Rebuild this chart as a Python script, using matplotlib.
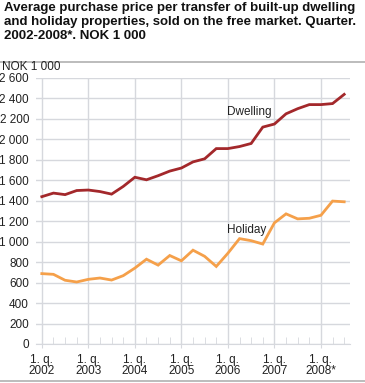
import matplotlib
matplotlib.use("Agg")
import matplotlib.pyplot as plt
from matplotlib.ticker import FuncFormatter

plt.rcParams['font.family'] = ['Liberation Sans', 'DejaVu Sans']

# quarters 2002 Q1 .. 2008 Q3
years = ["2002", "2003", "2004", "2005", "2006", "2007", "2008*"]
dwelling = [1440, 1475, 1460, 1500, 1505, 1490, 1465, 1540,
            1630, 1605, 1645, 1690, 1720, 1780, 1810, 1910,
            1910, 1930, 1960, 2120, 2150, 2250, 2300, 2340,
            2340, 2350, 2440]
holiday = [688, 681, 623, 606, 632, 645, 625, 668,
           742, 829, 771, 865, 813, 917, 857, 758,
           887, 1030, 1010, 977, 1184, 1272, 1223, 1229,
           1258, 1397, 1390]

fig = plt.figure(figsize=(3.65, 3.83), dpi=100)
ax = fig.add_axes([36/365, 39/383, 314/365, 266/383])

x = list(range(len(dwelling)))
ax.plot(x, dwelling, color="#a3282b", lw=2, solid_joinstyle="miter", zorder=3)
ax.plot(x, holiday, color="#f5a04a", lw=2, solid_joinstyle="miter", zorder=3)

ax.set_xlim(-0.5, 26.5)
ax.set_ylim(0, 2600)
ax.set_yticks(range(0, 2601, 200))
ax.yaxis.set_major_formatter(FuncFormatter(lambda v, p: "{:,}".format(int(v)).replace(",", " ")))
ax.set_xticks([4*i for i in range(len(years))])
ax.set_xticklabels(["1. q.\n" + y for y in years])
ax.set_xticks(x, minor=True)

grid_c = "#d6d8dd"
ax.grid(True, which="major", color=grid_c, lw=1)
for s in ["top", "right", "left"]:
    ax.spines[s].set_visible(False)
ax.spines["bottom"].set_color(grid_c)
ax.tick_params(axis="y", length=0, labelsize=8.5, pad=5, colors="#222222")
ax.tick_params(axis="x", which="major", length=3, color=grid_c, labelsize=8.5, pad=4, labelcolor="#222222")
ax.tick_params(axis="x", which="minor", direction="in", length=5, color=grid_c)
for lab in ax.get_xticklabels():
    lab.set_linespacing(0.95)

ax.text(17.8, 2270, "Dwelling", fontsize=8.5, ha="center", va="center", color="#222222")
ax.text(17.6, 1110, "Holiday", fontsize=8.5, ha="center", va="center", color="#222222")

fig.text(4/365, 1 - 2/383,
         "Average purchase price per transfer of built-up dwelling\n"
         "and holiday properties, sold on the free market. Quarter.\n"
         "2002-2008*. NOK 1 000",
         fontsize=9.55, fontweight="bold", va="top", ha="left", linespacing=1.2, color="#111111")
fig.text(2/365, 1 - 73/383, "NOK 1 000", fontsize=8.5, va="bottom", ha="left", color="#222222")

fig.add_artist(plt.Line2D([0, 1], [1 - 62/383, 1 - 62/383], color="#b0b0b0", lw=1.2))
fig.add_artist(plt.Line2D([0, 1], [1 - 381/383, 1 - 381/383], color="#b0b0b0", lw=1.2))

fig.savefig("out.png", dpi=100)
